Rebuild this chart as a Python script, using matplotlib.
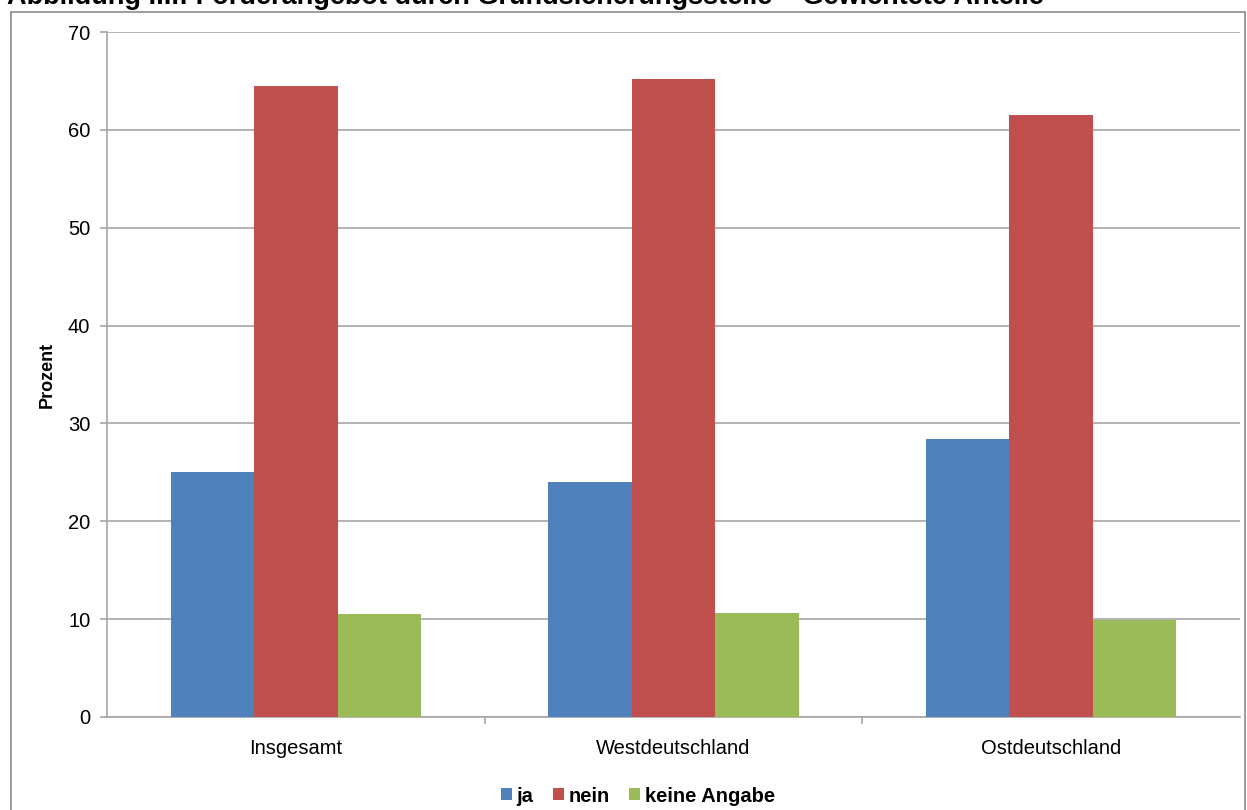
import matplotlib
matplotlib.use("Agg")
import matplotlib.pyplot as plt
from matplotlib.patches import Rectangle, Patch
import numpy as np

plt.rcParams['font.family'] = ['Liberation Sans', 'DejaVu Sans']

categories = ["Insgesamt", "Westdeutschland", "Ostdeutschland"]
series_names = ["ja", "nein", "keine Angabe"]
ja = [25.0, 24.0, 28.4]
nein = [64.5, 65.2, 61.5]
keine_angabe = [10.5, 10.6, 9.9]
y_ticks = [0, 10, 20, 30, 40, 50, 60, 70]

colors = ["#4F81BD", "#C0504D", "#9BBB59"]
grid_gray = "#A6A6A6"

fig = plt.figure(figsize=(12.47, 8.10), dpi=100)
ax = fig.add_axes([107 / 1247, 1 - 717 / 810, (1240 - 107) / 1247, (717 - 32) / 810])

# outer chart frame
fig.patches.append(Rectangle((11 / 1247, -0.01), (1245 - 11) / 1247, 1 - 12 / 810 + 0.01,
                             transform=fig.transFigure, fill=False,
                             edgecolor="#8C8C8C", linewidth=1.2))

x = np.arange(len(categories))
w = 0.221
for i, (vals, name) in enumerate(zip([ja, nein, keine_angabe], series_names)):
    ax.bar(x + (i - 1) * w, vals, width=w, color=colors[i], label=name, zorder=3)

ax.set_xlim(-0.5, len(categories) - 0.5)
ax.set_ylim(0, 70)
ax.set_yticks(y_ticks)
ax.set_yticklabels([str(v) for v in y_ticks], fontsize=14.5)
ax.yaxis.grid(True, color=grid_gray, linewidth=1.2, zorder=0)
ax.set_xticks(x)
ax.set_xticklabels(categories, fontsize=14.5)
ax.tick_params(axis='x', length=0, pad=16)
ax.set_xticks([0.5, 1.5], minor=True)
ax.tick_params(axis='x', which='minor', length=5, color=grid_gray, width=1.2)
ax.tick_params(axis='y', length=5, color=grid_gray, width=1.2, pad=7)

for s in ["top", "right"]:
    ax.spines[s].set_visible(False)
for s in ["left", "bottom"]:
    ax.spines[s].set_color(grid_gray)
    ax.spines[s].set_linewidth(1.2)

ax.set_ylabel("Prozent", fontsize=13, fontweight="bold", labelpad=9)

handles = [Patch(facecolor=c, label=n) for c, n in zip(colors, series_names)]
fig.legend(handles=handles, loc="center", bbox_to_anchor=(638 / 1247, 1 - 796 / 810),
           ncol=3, frameon=False, prop={"weight": "bold", "size": 14.5},
           handlelength=0.55, handleheight=0.55, handletextpad=0.25, columnspacing=0.95,
           borderpad=0.1)

fig.text(7 / 1247, 1 - 4 / 810, "Abbildung III.: Förderangebot durch Grundsicherungsstelle – Gewichtete Anteile",
         fontsize=19.5, fontweight="bold", ha="left", va="baseline")

fig.savefig("out.png", dpi=100)
